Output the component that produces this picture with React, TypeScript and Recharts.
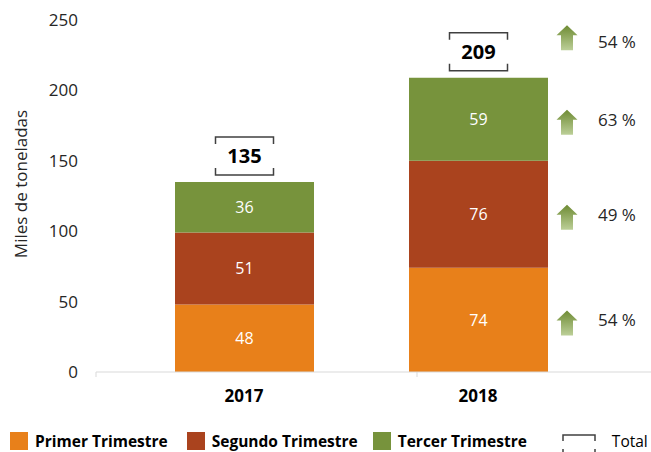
import React from "react";
import { Bar, BarChart, Label, LabelList, XAxis, YAxis } from "recharts";

const years = ["2017", "2018"];
const primerTrimestre = [48, 74];
const segundoTrimestre = [51, 76];
const tercerTrimestre = [36, 59];
const totals = [135, 209];
// variación 2018 vs 2017 (%)
const growthPrimer = 54;
const growthSegundo = 49;
const growthTercer = 63;
const growthTotal = 54;
const yTicks = [0, 50, 100, 150, 200, 250];

const ORANGE = "#E8801A";
const BROWN = "#AA431E";
const GREEN = "#77933C";
const FONT = "'Open Sans', 'Noto Sans', sans-serif";

const data = years.map((year, i) => ({
  year,
  primer: primerTrimestre[i],
  segundo: segundoTrimestre[i],
  tercer: tercerTrimestre[i],
  total: totals[i],
}));

function GrowthArrow({ cx, cy, id }: { cx: number; cy: number; id: string }) {
  const path = `M${cx} ${cy - 12.5} L${cx + 10.5} ${cy - 2.5} L${cx + 6} ${cy - 2.5} L${cx + 6} ${cy + 12.5} L${cx - 6} ${cy + 12.5} L${cx - 6} ${cy - 2.5} L${cx - 10.5} ${cy - 2.5} Z`;
  return (
    <g>
      <defs>
        <linearGradient id={id} x1="0" y1="0" x2="0" y2="1">
          <stop offset="0%" stopColor="#6E8B33" />
          <stop offset="100%" stopColor="#BCCF98" />
        </linearGradient>
      </defs>
      <path d={path} fill={`url(#${id})`} />
    </g>
  );
}

function growthLabel(growth: number, key: string) {
  return (props: any) => {
    const { x, y, width, height, index } = props;
    if (index !== 1) return null;
    const cx = Number(x) + Number(width) + 19;
    const cy = Number(y) + Number(height) / 2;
    return (
      <g>
        <GrowthArrow cx={cx} cy={cy + 3} id={`arrow-${key}`} />
        <text
          x={cx + 31}
          y={cy}
          dominantBaseline="central"
          fontFamily={FONT}
          fontSize={17}
          fill="#262626"
        >
          {`${growth} %`}
        </text>
      </g>
    );
  };
}

function TotalLabel(props: any) {
  const { x, y, width, index } = props;
  const cx = Number(x) + Number(width) / 2;
  const top = Number(y);
  const total = totals[index];
  const bx1 = cx - 29;
  const bx2 = cx + 29;
  const by1 = top - 45;
  const by2 = top - 7;
  const stroke = { stroke: "#404040", strokeWidth: 1.5, fill: "none" };
  return (
    <g>
      <path d={`M${bx1} ${by1 + 7} V${by1} H${bx2} V${by1 + 7}`} {...stroke} />
      <path d={`M${bx1} ${by2 - 7} V${by2} H${bx2} V${by2 - 7}`} {...stroke} />
      <text
        x={cx}
        y={(by1 + by2) / 2}
        textAnchor="middle"
        dominantBaseline="central"
        fontFamily={FONT}
        fontSize={20}
        fontWeight={700}
        fill="#000"
      >
        {total}
      </text>
      {index === 1 ? (
        <g>
          <GrowthArrow cx={Number(x) + Number(width) + 19} cy={top - 40} id="arrow-total" />
          <text
            x={Number(x) + Number(width) + 50}
            y={top - 36}
            dominantBaseline="central"
            fontFamily={FONT}
            fontSize={17}
            fill="#262626"
          >
            {`${growthTotal} %`}
          </text>
        </g>
      ) : null}
    </g>
  );
}

function YearTick(props: any) {
  const { x, y, payload, index } = props;
  // marcas del eje de categorías (como en el original)
  const markX = index === 0 ? Number(x) - 148 : Number(x) - 61;
  return (
    <g>
      <line x1={markX} y1={Number(y) - 8} x2={markX} y2={Number(y) - 3} stroke="#D9D9D9" />
      <text
        x={x}
        y={Number(y) + 15}
        textAnchor="middle"
        dominantBaseline="central"
        fontFamily={FONT}
        fontSize={17}
        fontWeight={700}
        fill="#000"
      >
        {payload.value}
      </text>
    </g>
  );
}

function LegendItem({ color, label }: { color: string; label: string }) {
  return (
    <div style={{ display: "flex", alignItems: "center", height: 20 }}>
      <div style={{ width: 18, height: 18, background: color, marginRight: 7 }} />
      <span style={{ fontWeight: 700, fontSize: 15.5, lineHeight: "20px", color: "#000" }}>{label}</span>
    </div>
  );
}

export default function App() {
  return (
    <div style={{ position: "absolute", left: 0, top: 0, width: 651, height: 452, background: "#fff", fontFamily: FONT, overflow: "hidden" }}>
      <BarChart width={651} height={452} data={data} margin={{ top: 20, right: 0, bottom: 40, left: 0 }}>
        <XAxis
          dataKey="year"
          height={40}
          padding={{ left: 31, right: 56 }}
          axisLine={{ stroke: "#D9D9D9" }}
          tickLine={false}
          tick={<YearTick />}
        />
        <YAxis
          width={96}
          domain={[0, 250]}
          ticks={yTicks}
          axisLine={false}
          tickLine={false}
          tickMargin={12}
          tick={{ fill: "#262626", fontSize: 17, fontFamily: FONT }}
        >
          <Label
            content={() => (
              <text
                x={20}
                y={184}
                transform="rotate(-90 20 184)"
                textAnchor="middle"
                dominantBaseline="central"
                fontFamily={FONT}
                fontSize={17}
                fill="#262626"
              >
                Miles de toneladas
              </text>
            )}
          />
        </YAxis>
        <Bar dataKey="primer" stackId="a" fill={ORANGE} barSize={139} isAnimationActive={false}>
          <LabelList dataKey="primer" position="center" fill="#fff" fontSize={16} fontFamily={FONT} />
          <LabelList dataKey="primer" content={growthLabel(growthPrimer, "primer")} />
        </Bar>
        <Bar dataKey="segundo" stackId="a" fill={BROWN} barSize={139} isAnimationActive={false}>
          <LabelList dataKey="segundo" position="center" fill="#fff" fontSize={16} fontFamily={FONT} />
          <LabelList dataKey="segundo" content={growthLabel(growthSegundo, "segundo")} />
        </Bar>
        <Bar dataKey="tercer" stackId="a" fill={GREEN} barSize={139} isAnimationActive={false}>
          <LabelList dataKey="tercer" position="center" fill="#fff" fontSize={16} fontFamily={FONT} />
          <LabelList dataKey="tercer" content={growthLabel(growthTercer, "tercer")} />
          <LabelList dataKey="total" content={<TotalLabel />} />
        </Bar>
      </BarChart>
      <div style={{ position: "absolute", left: 10, top: 431, height: 20, display: "flex", alignItems: "center" }}>
        <LegendItem color={ORANGE} label="Primer Trimestre" />
        <div style={{ width: 19 }} />
        <LegendItem color={BROWN} label="Segundo Trimestre" />
        <div style={{ width: 15 }} />
        <LegendItem color={GREEN} label="Tercer Trimestre" />
        <svg width={34} height={20} style={{ marginLeft: 35, overflow: "visible" }}>
          <path d="M1 10 V4 H33 V10" stroke="#404040" strokeWidth={1.5} fill="none" />
          <path d="M1 18 V28 M33 18 V28" stroke="#404040" strokeWidth={1.5} fill="none" />
        </svg>
        <span style={{ fontSize: 15.5, lineHeight: "20px", color: "#000", marginLeft: 16 }}>Total</span>
      </div>
    </div>
  );
}
